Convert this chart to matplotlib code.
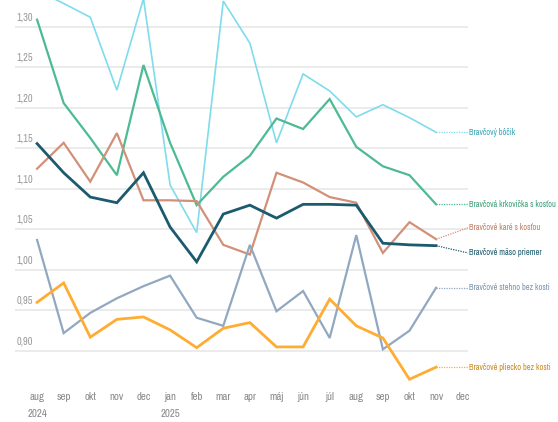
import matplotlib.pyplot as plt
from matplotlib import font_manager

# Months on the x axis (aug 2024 - dec 2025)
months = ['aug', 'sep', 'okt', 'nov', 'dec', 'jan', 'feb', 'mar', 'apr', 'máj',
          'jún', 'júl', 'aug', 'sep', 'okt', 'nov', 'dec']
years = {0: '2024', 5: '2025'}

# Prices per product (EUR/100 g), last month without data
bocik = [1.345, 1.329, 1.312, 1.222, 1.335, 1.105, 1.046, 1.332, 1.280, 1.157,
         1.242, 1.221, 1.189, 1.204, 1.188, 1.170]
krkovicka = [1.309, 1.206, 1.163, 1.117, 1.253, 1.157, 1.080, 1.115, 1.141, 1.187,
             1.174, 1.211, 1.152, 1.128, 1.117, 1.081]
kare = [1.125, 1.157, 1.109, 1.169, 1.086, 1.086, 1.085, 1.031, 1.019, 1.120,
        1.108, 1.090, 1.083, 1.021, 1.059, 1.038]
maso = [1.156, 1.120, 1.090, 1.083, 1.120, 1.053, 1.010, 1.069, 1.080, 1.064,
        1.081, 1.081, 1.080, 1.033, 1.031, 1.030]
stehno = [1.037, 0.922, 0.947, 0.965, 0.980, 0.993, 0.941, 0.931, 1.031, 0.949,
          0.974, 0.916, 1.043, 0.902, 0.925, 0.978]
pliecko = [0.960, 0.984, 0.917, 0.939, 0.942, 0.926, 0.904, 0.928, 0.935, 0.905,
           0.905, 0.964, 0.931, 0.916, 0.865, 0.880]

series = [
    ('Bravčový bôčik', bocik, '#7fdcec', '#3aa6b6', 1.2, 1.170),
    ('Bravčová krkovička s kosťou', krkovicka, '#4cbb94', '#3d9e78', 1.6, 1.081),
    ('Bravčové karé s kosťou', kare, '#d39079', '#c07f66', 1.6, 1.052),
    ('Bravčové mäso priemer', maso, '#1c5a6e', '#1c5a6e', 2.0, 1.021),
    ('Bravčové stehno bez kosti', stehno, '#91a8c0', '#7b93ad', 1.6, 0.978),
    ('Bravčové pliecko bez kosti', pliecko, '#ffac33', '#c98a26', 2.0, 0.880),
]

yticks = [0.90, 0.95, 1.00, 1.05, 1.10, 1.15, 1.20, 1.25, 1.30]


# pick a condensed regular face if one is installed
def narrowness(f):
    tag = (f.name + ' ' + f.fname).lower().replace(' ', '').replace('-', '')
    if 'mono' in tag or ('serif' in tag and 'sansserif' not in tag):
        return None
    if 'extracondensed' in tag or 'ultracondensed' in tag:
        return 1
    if 'semicondensed' in tag:
        return 2
    if 'narrow' in tag or ('condensed' in tag and 'dejavu' not in tag):
        return 0
    if 'condensed' in tag:
        return 4
    return None


best = None
for f in font_manager.fontManager.ttflist:
    r = narrowness(f)
    if r is None or f.style != 'normal' or f.weight not in (400, 'normal', 'regular'):
        continue
    if best is None or r < best[0]:
        best = (r, f.fname)
narrow = font_manager.FontProperties(fname=best[1]) if best else \
    font_manager.FontProperties(family='DejaVu Sans')

fig = plt.figure(figsize=(5.58, 4.22), dpi=100)
ax = fig.add_axes([15 / 558, 0.082, 453 / 558, 0.918])

x_end = len(bocik) - 1
labels = []
for name, vals, col, tcol, lw, ly in series:
    xs = list(range(len(vals)))
    ax.plot(xs, vals, color=col, lw=lw, solid_joinstyle='miter', zorder=3)
    # dotted leader from last point to the label
    ax.plot([x_end, 16.2], [vals[-1], ly], color=col, lw=0.9, ls=(0, (1, 1)),
            clip_on=False, zorder=2)
    t = ax.text(16.25, ly, name, color=tcol, fontproperties=narrow, va='center',
                ha='left', clip_on=False)
    t.set_fontsize(7.5)
    labels.append(t)

# shrink the end labels so the longest one ends at the right border
fig.canvas.draw()
r = fig.canvas.get_renderer()
widest = max(t.get_window_extent(r).width for t in labels)
size = min(7.5, 7.5 * 87 / widest)
for t in labels:
    t.set_fontsize(size)

ax.set_xlim(-0.83, 16.2)
ax.set_ylim(0.855, 1.3333)

for v in yticks:
    ax.axhline(v, color='#e6e6e6', lw=1.1, zorder=1)
    t = ax.text(0.003, v + 0.006, f'{v:.2f}'.replace('.', ','),
                transform=ax.get_yaxis_transform(), fontproperties=narrow,
                color='#9a9a9a', va='bottom', ha='left')
    t.set_fontsize(7.5)

ax.set_yticks([])
ax.set_xticks(range(len(months)))
ax.set_xticklabels(months, fontproperties=narrow)
ax.tick_params(axis='x', length=0, pad=3, labelsize=7.8, labelcolor='#8a8a8a')
for i, yr in years.items():
    t = ax.text(i, -0.055, yr, transform=ax.get_xaxis_transform(), ha='center',
                va='top', fontproperties=narrow, color='#8a8a8a')
    t.set_fontsize(7.8)

for s in ax.spines.values():
    s.set_visible(False)

fig.savefig('out.png', dpi=100)
